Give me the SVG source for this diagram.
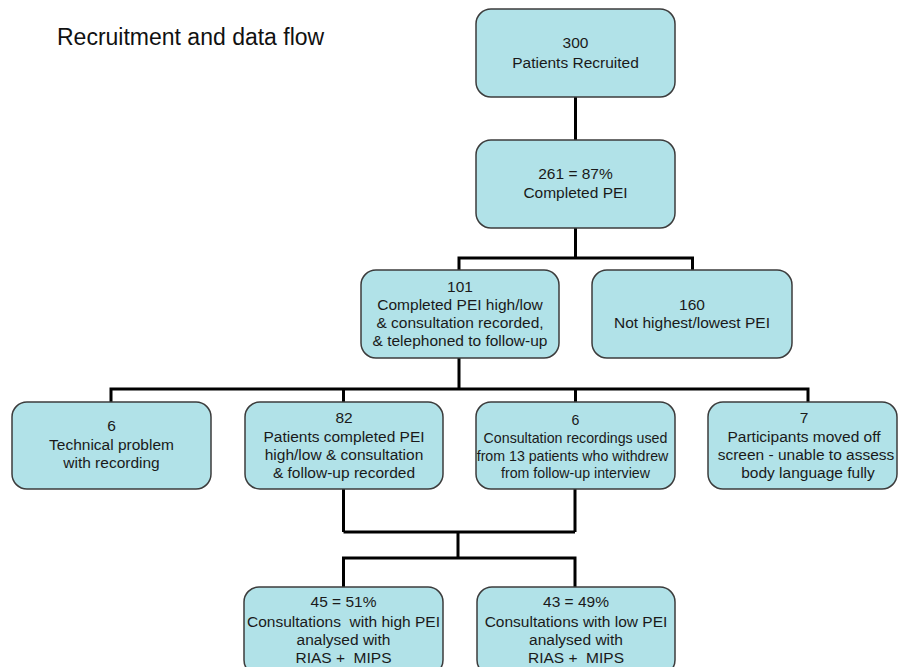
<svg xmlns="http://www.w3.org/2000/svg" width="898" height="667" viewBox="0 0 898 667">
<style>
.box{fill:#b1e2e8;stroke:#3c3c3c;stroke-width:1.5}
.t{font-family:"Liberation Sans",Arial,sans-serif;font-size:15.5px;fill:#1a1a1a;text-anchor:middle}
.s{font-size:14.2px}
.c{fill:none;stroke:#000;stroke-width:3}
</style>
<rect width="898" height="667" fill="#fff"/>
<text x="57" y="45" font-family="'Liberation Sans',Arial,sans-serif" font-size="23" fill="#111">Recruitment and data flow</text>
<g id="connectors">
<path class="c" d="M575.5 97V140"/>
<path class="c" d="M575.5 228V258M459 258H692.5M459 256.5V270M692.5 256.5V270"/>
<path class="c" d="M459 358V389M111 389H808M111 387.5V402M343.5 387.5V402M575.5 387.5V402M808 387.5V402"/>
<path class="c" d="M343.5 489V532M575 489V532M343.5 532H575M458 532V558M343.5 558H575M343.5 556.5V587M575 556.5V587"/>
</g>
<g id="n300"><rect class="box" x="476" y="9" width="199" height="88" rx="15"/>
<text class="t" x="575.5" y="48">300</text><text class="t" x="575.5" y="68">Patients Recruited</text></g>
<g id="n261"><rect class="box" x="476" y="140" width="199" height="88" rx="15"/>
<text class="t" x="575.5" y="179">261 = 87%</text><text class="t" x="575.5" y="198">Completed PEI</text></g>
<g id="n101"><rect class="box" x="361" y="270" width="198" height="88" rx="15"/>
<text class="t" x="460" y="292">101</text><text class="t" x="460" y="310">Completed PEI high/low</text><text class="t" x="460" y="328">&amp; consultation recorded,</text><text class="t" x="460" y="345.5">&amp; telephoned to follow-up</text></g>
<g id="n160"><rect class="box" x="592" y="270" width="200" height="88" rx="15"/>
<text class="t" x="692" y="310">160</text><text class="t" x="692" y="328">Not highest/lowest PEI</text></g>
<g id="ntech"><rect class="box" x="12" y="402" width="199" height="87" rx="15"/>
<text class="t" x="111.5" y="431">6</text><text class="t" x="111.5" y="450">Technical problem</text><text class="t" x="111.5" y="468">with recording</text></g>
<g id="n82"><rect class="box" x="245" y="402" width="198" height="87" rx="15"/>
<text class="t" x="344" y="423">82</text><text class="t" x="344" y="442">Patients completed PEI</text><text class="t" x="344" y="460">high/low &amp; consultation</text><text class="t" x="344" y="478">&amp; follow-up recorded</text></g>
<g id="nwithdrew"><rect class="box" x="476" y="402" width="199" height="87" rx="15"/>
<text class="t s" x="575.5" y="425">6</text><text class="t s" x="575.5" y="443">Consultation recordings used</text><text class="t s" x="572.5" y="461">from 13 patients who withdrew</text><text class="t s" x="575.5" y="478">from follow-up interview</text></g>
<g id="n7"><rect class="box" x="708" y="402" width="189" height="87" rx="15"/>
<text class="t" x="804" y="423">7</text><text class="t" x="804" y="442">Participants moved off</text><text class="t" x="806" y="460">screen - unable to assess</text><text class="t" x="808" y="478">body language fully</text></g>
<g id="nhigh"><rect class="box" x="244" y="587" width="199" height="88" rx="15"/>
<text class="t" x="343.5" y="607">45 = 51%</text><text class="t" x="343.5" y="627" xml:space="preserve">Consultations  with high PEI</text><text class="t" x="343.5" y="645">analysed with</text><text class="t" x="343.5" y="663" xml:space="preserve">RIAS +  MIPS</text></g>
<g id="nlow"><rect class="box" x="477" y="587" width="198" height="88" rx="15"/>
<text class="t" x="576" y="607">43 = 49%</text><text class="t" x="576" y="627">Consultations with low PEI</text><text class="t" x="576" y="645">analysed with</text><text class="t" x="576" y="663" xml:space="preserve">RIAS +  MIPS</text></g>
</svg>
